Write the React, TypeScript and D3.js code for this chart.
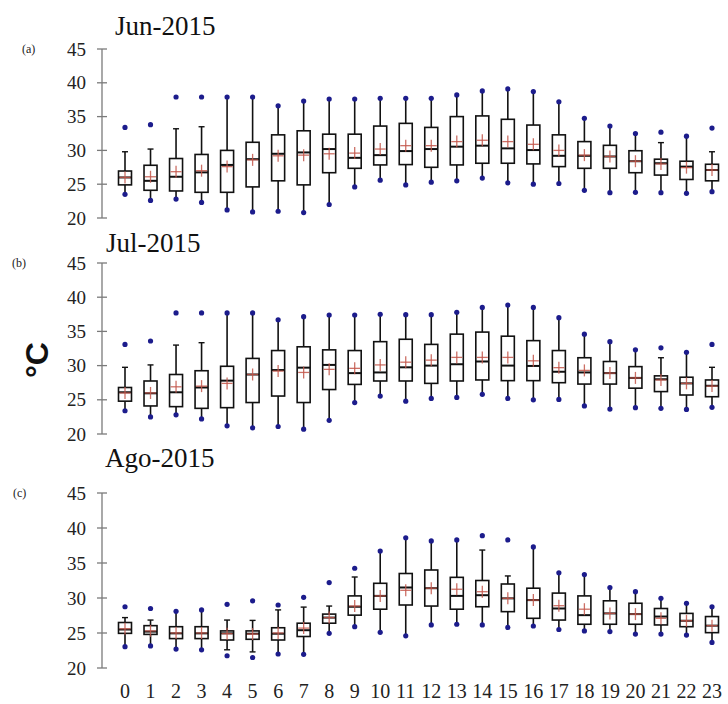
import React from "react";
import * as d3 from "d3";

const hours = ["0","1","2","3","4","5","6","7","8","9","10","11","12","13","14","15","16","17","18","19","20","21","22","23"];
const yTicks = [20, 25, 30, 35, 40, 45];
const titles = ["Jun-2015", "Jul-2015", "Ago-2015"];
const panelTags = ["(a)", "(b)", "(c)"];

// Jun-2015
const junMin = [23.5,22.6,22.8,22.3,21.2,20.9,21.0,20.8,22.0,24.6,25.6,24.9,25.3,25.5,25.9,25.2,25.0,25.1,24.1,23.75,23.8,23.75,23.65,23.9];
const junWLo = [23.5,22.6,22.8,22.3,21.2,20.9,21.0,20.8,22.0,24.6,25.6,24.9,25.3,25.5,25.9,25.2,25.0,25.1,24.1,23.75,23.8,23.75,23.65,23.9];
const junQ1 = [24.9,24.1,24.0,23.8,23.8,24.6,25.5,24.9,26.7,27.35,27.85,27.9,27.5,27.85,28.1,28.1,28.0,27.6,27.35,27.35,26.7,26.35,25.7,25.5];
const junMed = [26.0,25.5,26.1,26.75,27.85,28.7,29.5,29.7,30.2,28.9,29.3,29.9,30.2,30.55,30.7,30.3,30.05,29.2,29.2,29.1,28.4,28.1,27.6,27.1];
const junQ3 = [26.95,27.8,28.8,29.4,30.0,31.2,32.3,32.9,32.4,32.4,33.6,34.0,33.4,35.0,35.1,34.6,33.75,32.3,31.3,30.75,29.95,28.7,28.4,27.95];
const junWHi = [29.8,30.2,33.2,33.5,37.9,37.9,36.6,37.3,37.6,37.6,37.7,37.7,37.7,38.2,38.8,39.1,38.7,37.2,34.75,33.6,32.5,31.15,32.1,29.8];
const junMax = [33.4,33.8,37.9,37.9,37.9,37.9,36.6,37.3,37.6,37.6,37.7,37.7,37.7,38.2,38.8,39.1,38.7,37.2,34.75,33.6,32.5,32.7,32.1,33.3];
const junMean = [26.0,26.1,26.85,27.0,27.6,28.6,29.2,29.3,29.5,29.6,30.2,30.7,30.7,31.3,31.5,31.3,30.9,30.0,29.3,29.1,28.4,28.0,27.45,27.1];

// Jul-2015
const julMin = [23.4,22.5,22.8,22.2,21.2,20.9,21.1,20.7,22.0,24.6,25.55,24.8,25.2,25.35,25.8,25.2,25.0,25.05,24.1,23.65,23.85,23.75,23.6,23.9];
const julWLo = [23.4,22.5,22.8,22.2,21.2,20.9,21.1,20.7,22.0,24.6,25.55,24.8,25.2,25.35,25.8,25.2,25.0,25.05,24.1,23.65,23.85,23.75,23.6,23.9];
const julQ1 = [24.8,24.1,24.0,23.75,23.85,24.6,25.55,24.6,26.5,27.25,27.75,27.75,27.4,27.75,27.9,27.8,27.8,27.5,27.3,27.3,26.7,26.2,25.7,25.45];
const julMed = [26.1,25.95,26.1,26.8,27.8,28.7,29.35,29.7,30.1,28.9,29.0,29.75,30.0,30.2,30.6,30.0,29.95,29.1,29.0,28.9,28.2,28.0,27.4,27.05];
const julQ3 = [26.8,27.75,28.7,29.25,29.9,31.05,32.2,32.75,32.3,32.2,33.5,33.85,33.1,34.6,34.9,34.3,33.65,32.2,31.15,30.6,29.85,28.5,28.3,27.9];
const julWHi = [29.75,30.1,33.0,33.35,37.7,37.7,36.7,37.15,37.4,37.4,37.5,37.45,37.45,37.8,38.5,38.85,38.5,37.0,34.6,33.5,32.3,31.15,31.95,29.75];
const julMax = [33.1,33.6,37.7,37.7,37.7,37.7,36.7,37.15,37.4,37.4,37.5,37.45,37.45,37.8,38.5,38.85,38.5,37.0,34.6,33.5,32.3,32.6,31.95,33.1];
const julMean = [26.0,26.0,26.9,27.0,27.4,28.7,29.2,29.0,29.45,29.6,30.1,30.5,30.8,31.2,31.2,31.2,30.7,29.7,29.3,28.9,28.2,27.9,27.4,27.0];

// Ago-2015
const agoMin = [23.05,23.15,22.7,22.6,21.75,21.5,22.0,21.95,24.95,25.9,25.1,24.6,26.15,26.25,26.15,25.8,26.0,25.5,25.3,25.2,24.85,24.85,24.7,23.65];
const agoWLo = [23.05,23.15,22.7,22.6,22.6,22.3,22.0,21.95,24.95,25.9,25.1,24.6,26.15,26.25,26.15,25.8,26.0,25.5,25.3,25.2,24.85,24.85,24.7,23.65];
const agoQ1 = [24.95,24.8,24.2,24.2,24.0,24.1,24.0,24.5,26.4,27.55,28.4,29.0,28.85,28.4,28.75,28.05,27.1,26.85,26.25,26.25,26.25,26.15,25.9,25.05];
const agoMed = [25.5,25.2,24.95,24.95,24.95,24.9,24.9,25.4,27.2,28.75,30.3,31.5,31.4,30.3,30.4,29.95,29.7,28.5,27.55,27.8,27.7,27.35,26.75,26.05];
const agoQ3 = [26.5,26.05,25.9,25.9,25.3,25.3,25.75,26.4,27.7,30.3,32.1,33.5,34.0,32.95,32.5,32.0,31.4,30.7,30.3,29.6,29.25,28.5,27.8,27.35];
const agoWHi = [27.2,26.85,28.1,28.3,26.85,26.8,28.3,28.7,28.85,33.0,36.7,38.6,38.15,38.3,36.85,33.15,37.3,33.6,33.35,31.5,30.9,29.95,29.25,28.75];
const agoMax = [28.75,28.5,28.1,28.3,29.1,29.6,29.0,30.1,32.2,34.25,36.7,38.6,38.15,38.3,38.9,38.3,37.3,33.6,33.35,31.5,30.9,29.95,29.25,28.75];
const agoMean = [25.6,25.3,25.0,25.0,24.9,24.85,25.0,25.7,27.2,28.85,30.3,31.1,31.4,31.25,30.9,29.95,29.7,28.9,28.4,27.8,27.7,27.1,26.75,26.05];

const panelsData = [
  { min: junMin, wLo: junWLo, q1: junQ1, med: junMed, q3: junQ3, wHi: junWHi, max: junMax, mean: junMean },
  { min: julMin, wLo: julWLo, q1: julQ1, med: julMed, q3: julQ3, wHi: julWHi, max: julMax, mean: julMean },
  { min: agoMin, wLo: agoWLo, q1: agoQ1, med: agoMed, q3: agoQ3, wHi: agoWHi, max: agoMax, mean: agoMean },
];

const layout = [
  { top: 49, bottom: 218, titleX: 115, titleY: 35, tagX: 22, tagY: 53 },
  { top: 263, bottom: 434, titleX: 106, titleY: 252, tagX: 12, tagY: 267 },
  { top: 493, bottom: 668, titleX: 105, titleY: 467, tagX: 13, tagY: 497 },
];

const AXIS_X = 102;
const SERIF = "Liberation Serif";
const BOX_W = 13;
const DOT = "#1c1c8c";
const MEAN = "#c4584c";

export default function App() {
  const x = d3.scalePoint<string>().domain(hours).range([125, 712]);

  return (
    <svg width={728} height={704} style={{ position: "absolute", left: 0, top: 0, background: "#fff" }}>
      <rect width={728} height={704} fill="#fff" />
      {panelsData.map((p, pi) => {
        const L = layout[pi];
        const y = d3.scaleLinear().domain([20, 45]).range([L.bottom, L.top]);
        return (
          <g key={pi}>
            <text x={L.titleX} y={L.titleY} fontFamily={SERIF} fontSize={27} fill="#111">{titles[pi]}</text>
            <text x={L.tagX} y={L.tagY} fontFamily={SERIF} fontSize={12} fill="#222">{panelTags[pi]}</text>
            <line x1={AXIS_X} x2={AXIS_X} y1={y(45)} y2={y(20)} stroke="#7a7a7a" strokeWidth={1.3} />
            {yTicks.map((t) => (
              <g key={t}>
                <line x1={AXIS_X - 5} x2={AXIS_X + 5} y1={y(t)} y2={y(t)} stroke="#7a7a7a" strokeWidth={1.3} />
                <text x={86} y={y(t)} dy="0.35em" textAnchor="end" fontFamily={SERIF} fontSize={19} fill="#222">{t}</text>
              </g>
            ))}
            {hours.map((h, i) => {
              const cx = x(h) as number;
              const capW = 3;
              return (
                <g key={h}>
                  <line x1={cx} x2={cx} y1={y(p.wHi[i])} y2={y(p.q3[i])} stroke="#111" strokeWidth={1.6} />
                  <line x1={cx} x2={cx} y1={y(p.q1[i])} y2={y(p.wLo[i])} stroke="#111" strokeWidth={1.6} />
                  {p.wHi[i] < p.max[i] && (
                    <line x1={cx - capW} x2={cx + capW} y1={y(p.wHi[i])} y2={y(p.wHi[i])} stroke="#111" strokeWidth={1.4} />
                  )}
                  {p.wLo[i] > p.min[i] && (
                    <line x1={cx - capW} x2={cx + capW} y1={y(p.wLo[i])} y2={y(p.wLo[i])} stroke="#111" strokeWidth={1.4} />
                  )}
                  <rect x={cx - BOX_W / 2} y={y(p.q3[i])} width={BOX_W} height={y(p.q1[i]) - y(p.q3[i])} fill="#fff" stroke="#111" strokeWidth={1.6} />
                  <line x1={cx - BOX_W / 2} x2={cx + BOX_W / 2} y1={y(p.med[i])} y2={y(p.med[i])} stroke="#111" strokeWidth={2} />
                  <line x1={cx - 5.5} x2={cx + 5.5} y1={y(p.mean[i])} y2={y(p.mean[i])} stroke={MEAN} strokeWidth={1.3} opacity={0.85} />
                  <line x1={cx} x2={cx} y1={y(p.mean[i]) - 6} y2={y(p.mean[i]) + 6} stroke={MEAN} strokeWidth={1.3} opacity={0.85} />
                  <circle cx={cx} cy={y(p.max[i])} r={2.6} fill={DOT} />
                  <circle cx={cx} cy={y(p.min[i])} r={2.6} fill={DOT} />
                </g>
              );
            })}
            {pi === 2 && hours.map((h) => (
              <text key={h} x={x(h) as number} y={698} textAnchor="middle" fontFamily={SERIF} fontSize={20} fill="#222">{h}</text>
            ))}
          </g>
        );
      })}
      <text
        transform="translate(48,360) rotate(-90)"
        textAnchor="middle"
        fontFamily="Liberation Sans"
        fontWeight="bold"
        fontSize={32}
        fill="#111"
      >°C</text>
    </svg>
  );
}
